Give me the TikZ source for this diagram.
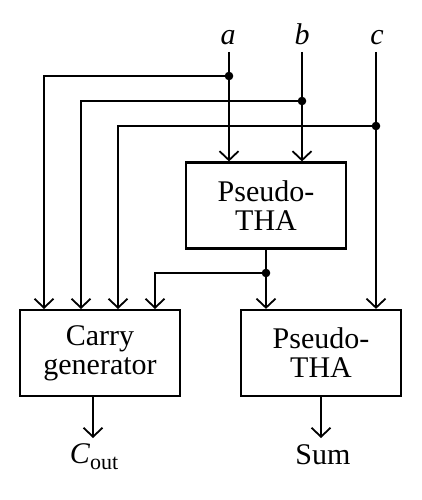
\documentclass[tikz,border=0pt]{standalone}
\usepackage{fontspec}
\setmainfont{Liberation Serif}
\usetikzlibrary{arrows.meta}
\begin{document}
\begin{tikzpicture}[x=1pt,y=-1pt,
  wire/.style={line width=1.8pt},
  arr/.style={wire,-{Straight Barb[length=9pt,width=19pt,line width=1.8pt]}},
  blk/.style={draw,line width=2.2pt,minimum width=160pt,minimum height=86pt,align=center,inner sep=0pt,font=\fontsize{30}{29}\selectfont},
  lbl/.style={font=\fontsize{30}{29}\selectfont,inner sep=0pt,anchor=base}]
\useasboundingbox (0,0) rectangle (421,500);
% blocks
\node[blk] (tha1) at (266,205.5) {Pseudo-\\THA};
\node[blk] (carry) at (100,353) {Carry\\generator};
\node[blk] (tha2) at (321,353) {Pseudo-\\THA};
% input labels
\node[lbl] (la) at (228,45) {\textit{a}};
\node[lbl] (lb) at (302,45) {\textit{b}};
\node[lbl] (lc) at (377,45) {\textit{c}};
\coordinate (ina) at (229,52);
\coordinate (inb) at (302,52);
\coordinate (inc) at (376,52);
\coordinate (da) at (229,76);
\coordinate (db) at (302,101);
\coordinate (dc) at (376,126);
\coordinate (dm) at (266,273);
\coordinate (k1) at (44,309);
\coordinate (k2) at (81,309);
\coordinate (k3) at (118,309);
\coordinate (k4) at (155,309);
% wires
\draw[arr] (ina) -- (ina |- tha1.north);
\draw[arr] (inb) -- (inb |- tha1.north);
\draw[arr] (inc) -- (inc |- tha2.north);
\draw[arr] (da) -| (k1);
\draw[arr] (db) -| (k2);
\draw[arr] (dc) -| (k3);
\draw[wire] (tha1.south) -- (dm);
\draw[arr] (dm) -- (dm |- tha2.north);
\draw[arr] (dm) -| (k4);
\foreach \d in {da,db,dc,dm} \fill (\d) circle (4.3pt);
% outputs
\coordinate (ce) at (93,438);
\coordinate (se) at (321,438);
\draw[arr] (carry.south -| ce) -- (ce);
\draw[arr] (tha2.south -| se) -- (se);
\node[lbl] (cout) at (94,463) {\textit{C}\raisebox{-6pt}{\fontsize{22}{22}\selectfont out}};
\node[lbl] (sum) at (323,464) {Sum};
\end{tikzpicture}
\end{document}
